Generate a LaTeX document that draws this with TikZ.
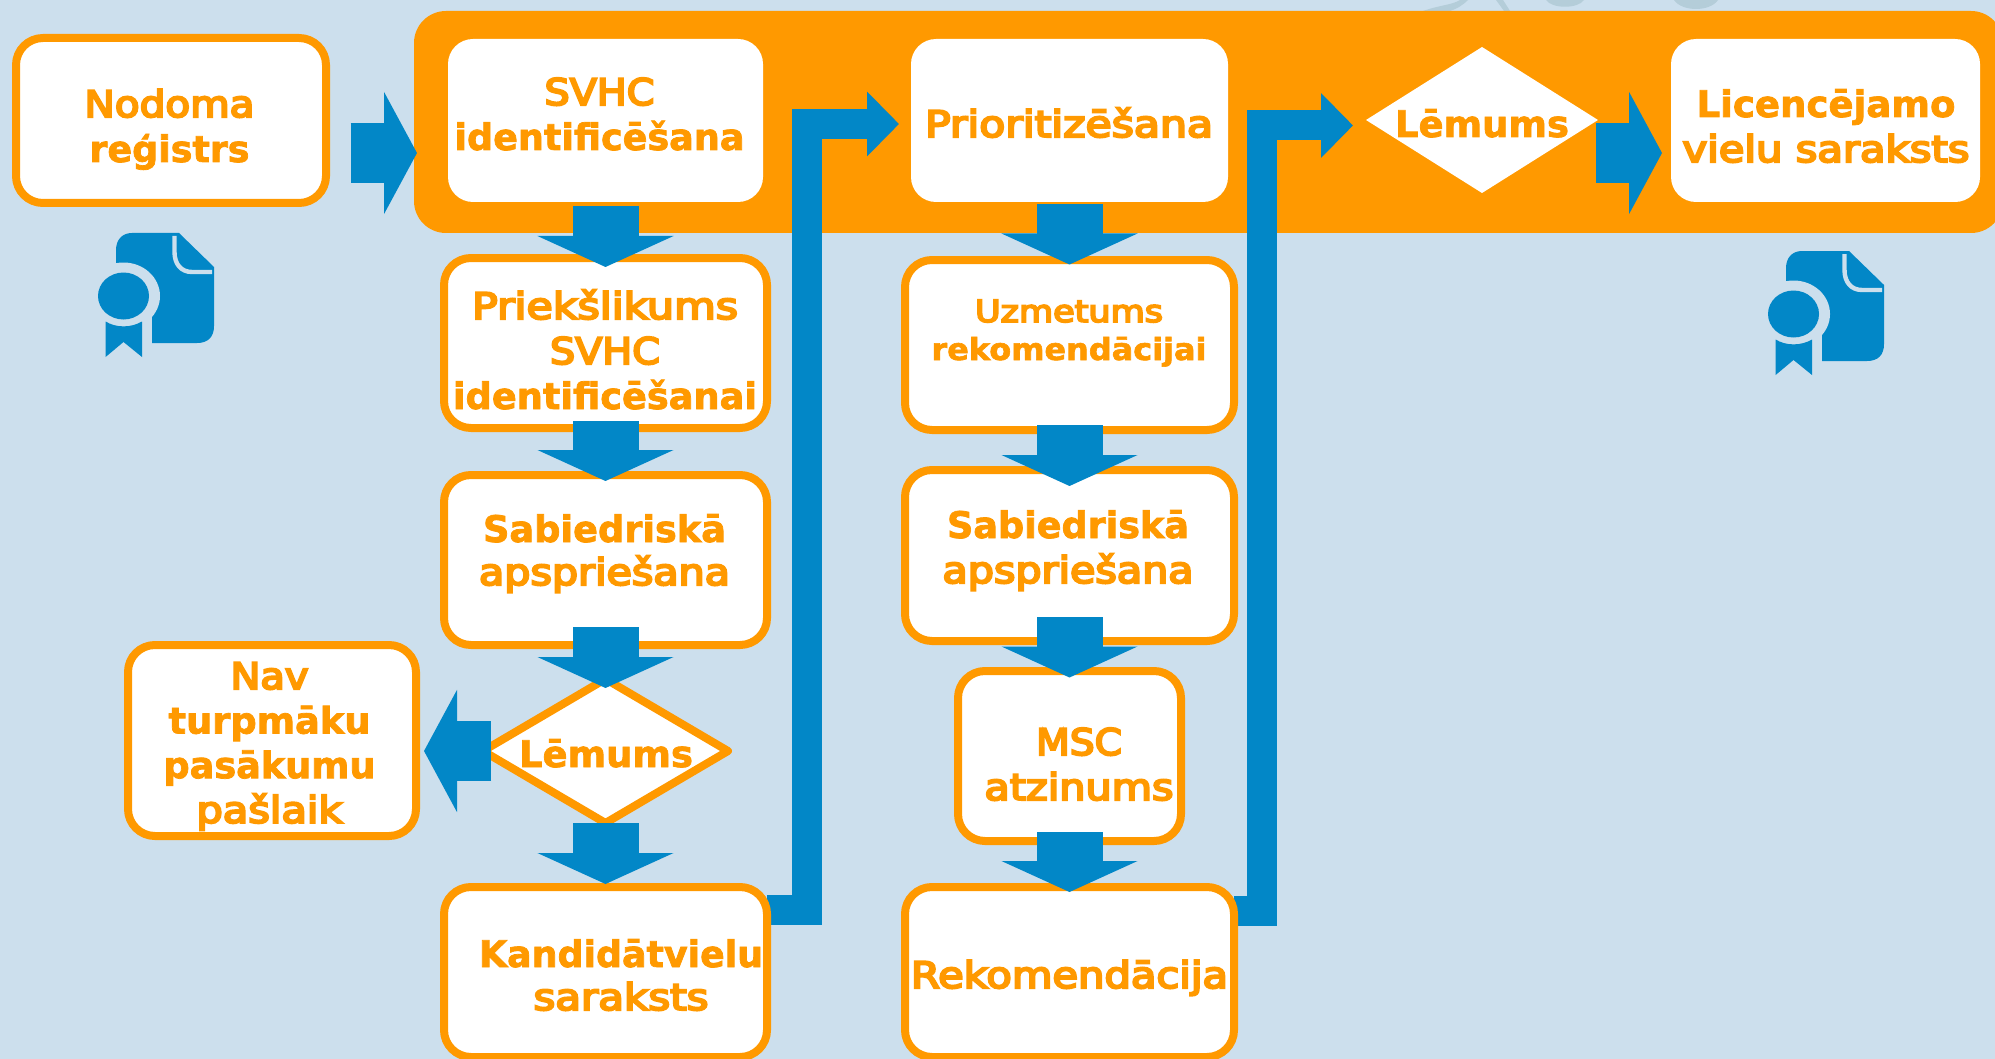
\documentclass[tikz,border=0pt]{standalone}
\usepackage{fontspec}
\usepackage{graphicx}
\usetikzlibrary{calc,arrows.meta,shapes.geometric}
\newfontfamily\fdv[BoldFeatures={FakeBold=2}]{DejaVu Sans}
\newfontfamily\fmed[FakeBold=5.5]{DejaVu Sans}
\definecolor{bgc}{HTML}{CCDFED}
\definecolor{org}{HTML}{FF9900}
\definecolor{blu}{HTML}{0287C7}
\definecolor{blob}{HTML}{B4CDD9}
\pgfdeclarelayer{under}
\pgfsetlayers{under,main}
\newsavebox\flbox
\newcommand\FL[3]{\sbox\flbox{#2#3}\pgfmathsetmacro\fxs{#1*0.5pt/\wd\flbox}\scalebox{\fxs}[1]{\usebox\flbox}}
\newcommand\BL[2]{\FL{#1}{\fdv\bfseries\fontsize{18.3}{22}\selectfont}{#2}}
\newcommand\ML[2]{\FL{#1}{\fmed\fontsize{18.3}{22}\selectfont}{#2}}
\newcommand\BS[2]{\FL{#1}{\fdv\bfseries\fontsize{15.2}{18}\selectfont}{#2}}
\newcommand\MS[2]{\FL{#1}{\fmed\fontsize{15.2}{18}\selectfont}{#2}}
\newcommand\Lines[2]{\vtop{\baselineskip=#1pt\lineskiplimit=-100pt\lineskip=0pt\halign{\hfil##\hfil\cr #2}}}
\newcommand\BoxO[5]{\node[obox,minimum width={(#3-#2-8)*0.5pt},minimum height={(#5-#4-8)*0.5pt}] (#1) at ({(#2+#3)/2},{(#4+#5)/2}) {};}
\newcommand\BoxW[5]{\node[wbox,minimum width={(#3-#2)*0.5pt},minimum height={(#5-#4)*0.5pt}] (#1) at ({(#2+#3)/2},{(#4+#5)/2}) {};}
\tikzset{
  obox/.style={rectangle,draw=org,fill=white,line width=4pt,rounded corners=13.5pt,inner sep=0pt,outer sep=0pt},
  wbox/.style={rectangle,fill=white,rounded corners=12.5pt,inner sep=0pt,outer sep=0pt},
  lab/.style={anchor=base,inner sep=0pt,outer sep=0pt,text=org},
  dnarrow/.style={draw=blu,line width=33pt,-{Triangle[length=15.5pt,width=67.5pt]}},
  rtarrow/.style={draw=blu,line width=30pt,-{Triangle[length=16.5pt,width=60.5pt]}},
  bentarrow/.style={draw=blu,line width=15pt,line join=miter,-{Triangle[length=16pt,width=31.5pt]}},
  pics/icon/.style={code={
    \fill[blu] (116,268) -- (116,250) .. controls (116,240) and (122,233) .. (132,233) -- (179,233) -- (214,267) -- (214,326)
       .. controls (214,337) and (208,343) .. (197,343) -- (152,343) -- (152,316) -- cycle;
    \fill[bgc] (123.5,296) ellipse [x radius=18.25pt,y radius=16.75pt];
    \fill[blu] (123.5,296) ellipse [x radius=12.75pt,y radius=11.75pt];
    \fill[blu] (105.6,321.5) .. controls (116,328) and (131,328) .. (142,321.5) -- (142,357) -- (123.5,342) -- (105.6,357) -- cycle;
    \draw[bgc,line width=2.2pt] (174.5,236) -- (174.5,252) .. controls (174.5,264) and (181,272) .. (192,272) -- (212,272);
  }}
}
\begin{document}
\begin{tikzpicture}[x=0.5pt,y=-0.5pt]
\useasboundingbox (0,0) rectangle (1995,1059);
\begin{pgfonlayer}{under}
\fill[bgc] (0,0) rectangle (1995,1059);
% faint remnants at the top edge
\fill[blob] (1423,11) .. controls (1440,5) and (1452,5) .. (1460,0) -- (1468,0) .. controls (1462,6) and (1456,9) .. (1450,11) -- cycle;
\fill[blob] (1496,0) -- (1503,0) -- (1510,11) -- (1504,11) -- cycle;
\fill[blob] (1546,0) .. controls (1552,9) and (1578,9) .. (1584,0) -- cycle;
\fill[blob] (1674,0) .. controls (1682,12) and (1710,12) .. (1718,0) -- cycle;
% band
\node[rectangle,fill=org,rounded corners=16pt,inner sep=0pt,outer sep=0pt,minimum width={(2003-414)*0.5pt},minimum height={(233-11)*0.5pt}] (band) at ({(414+2003)/2},122) {};
\end{pgfonlayer}
\coordinate (b1a) at (807.4,909.5);
\coordinate (b1b) at (807.4,124);
\coordinate (b2a) at (1262,910.5);
\coordinate (b2b) at (1262,125.5);
\coordinate (r1) at (0,153);
% boxes
\BoxO{nod}{12}{330}{34}{207}
\BoxW{svhc}{448}{763}{39}{202}
\BoxO{prop}{440}{771}{254}{432}
\BoxO{sabA}{440}{771}{471}{649}
\BoxO{kand}{440}{771}{883}{1061}
\BoxW{prio}{911}{1228}{39}{202}
\BoxO{unz}{901}{1238}{256}{434}
\BoxO{sabB}{901}{1238}{466}{645}
\BoxO{msc}{954}{1185}{667}{845}
\BoxO{rek}{901}{1238}{883}{1061}
\BoxO{nav}{124}{420}{641}{840}
\BoxW{lic}{1671}{1980}{39}{202}
% diamonds
\node[diamond,aspect=1.7,draw=org,fill=white,line width=4pt,line join=round,inner sep=0pt,outer sep=0pt,minimum width=122.5pt,minimum height=72pt] (lemA) at (605.5,751) {};
\node[diamond,aspect=1.6,fill=white,inner sep=0pt,outer sep=0pt,minimum width=116pt,minimum height=73pt] (lemB) at (1482,120) {};
% bent arrows, under the boxes they leave
\begin{pgfonlayer}{under}
\draw[bentarrow] (kand.east |- b1a) -- (b1a) -- (b1b) -- ($(prio.west |- b1b)+(-12,0)$);
\draw[bentarrow] (rek.east |- b2a) -- (b2a) -- (b2b) -- ($(lemB.west |- b2b)+(-13,0)$);
\end{pgfonlayer}
% block arrows
\draw[rtarrow] ($(nod.east |- r1)+(24.5,0)$) -- ($(band.west |- r1)+(3,0)$);
\draw[rtarrow] ($(lemB.east |- r1)+(-2,0)$) -- ($(lic.west |- r1)+(-9,0)$);
\draw[dnarrow] ($(svhc.south)+(0,4)$) -- ($(prop.north)+(0,9)$);
\draw[dnarrow] ($(prop.south)+(0,-7)$) -- ($(sabA.north)+(0,6)$);
\draw[dnarrow] ($(sabA.south)+(0,-18)$) -- ($(lemA.north)+(0,9)$);
\draw[dnarrow] (lemA.south) -- ($(kand.north)+(0,-3)$);
\draw[rtarrow] ($(lemA.west)+(8,0)$) -- ($(nav.east |- lemA.west)+(8,0)$);
\draw[dnarrow] ($(prio.south)+(0,2)$) -- ($(unz.north)+(0,4.5)$);
\draw[dnarrow] ($(unz.south)+(0,-5)$) -- ($(sabB.north)+(0,16)$);
\draw[dnarrow] ($(sabB.south)+(0,-24)$) -- ($(msc.north)+(0,6.5)$);
\draw[dnarrow] ($(msc.south)+(0,-9)$) -- ($(rek.north)+(0,5)$);
% icons
\pic (iconA) at (0,0) {icon};
\pic (iconB) at (1670,18) {icon};
% texts
\node[lab] (tnod) at (169.5,117) {\Lines{22.5}{\ML{170}{Nodoma}\cr\BL{160}{reģistrs}\cr}};
\node[lab] (tsvhc) at (599.5,105) {\Lines{22.5}{\ML{110}{SVHC}\cr\BL{290}{identificēšana}\cr}};
\node[lab] (tprop) at (605,319) {\Lines{22.5}{\ML{266}{Priekšlikums}\cr\ML{110}{SVHC}\cr\BL{304}{identificēšanai}\cr}};
\node[lab] (tsabA) at (604.5,542) {\Lines{21.5}{\BL{243}{Sabiedriskā}\cr\ML{251}{apspriešana}\cr}};
\node[lab] (tnav) at (269.5,689) {\Lines{22.3}{\ML{78}{Nav}\cr\BL{202}{turpmāku}\cr\BL{212}{pasākumu}\cr\ML{146}{pašlaik}\cr}};
\node[lab] (tlemA) at (606,767) {\Lines{22}{\BL{174}{Lēmums}\cr}};
\node[lab] (tkand) at (621,967) {\Lines{21.5}{\BL{284}{Kandidātvielu}\cr\ML{175}{saraksts}\cr}};
\node[lab] (tprio) at (1069,137) {\Lines{22}{\ML{288}{Prioritizēšana}\cr}};
\node[lab] (tunz) at (1069,322) {\Lines{19}{\MS{188}{Uzmetums}\cr\BS{275}{rekomendācijai}\cr}};
\node[lab] (tsabB) at (1068,538) {\Lines{22.5}{\BL{242}{Sabiedriskā}\cr\ML{251}{apspriešana}\cr}};
\node[lab] (tmsc) at (1079,755) {\Lines{22.5}{\ML{86}{MSC}\cr\ML{189}{atzinums}\cr}};
\node[lab] (trek) at (1069.5,988) {\Lines{22}{\ML{317}{Rekomendācija}\cr}};
\node[lab] (tlemB) at (1482,137) {\Lines{22}{\BL{174}{Lēmums}\cr}};
\node[lab] (tlic) at (1826,117) {\Lines{22.5}{\BL{259}{Licencējamo}\cr\ML{287}{vielu saraksts}\cr}};
\end{tikzpicture}
\end{document}
